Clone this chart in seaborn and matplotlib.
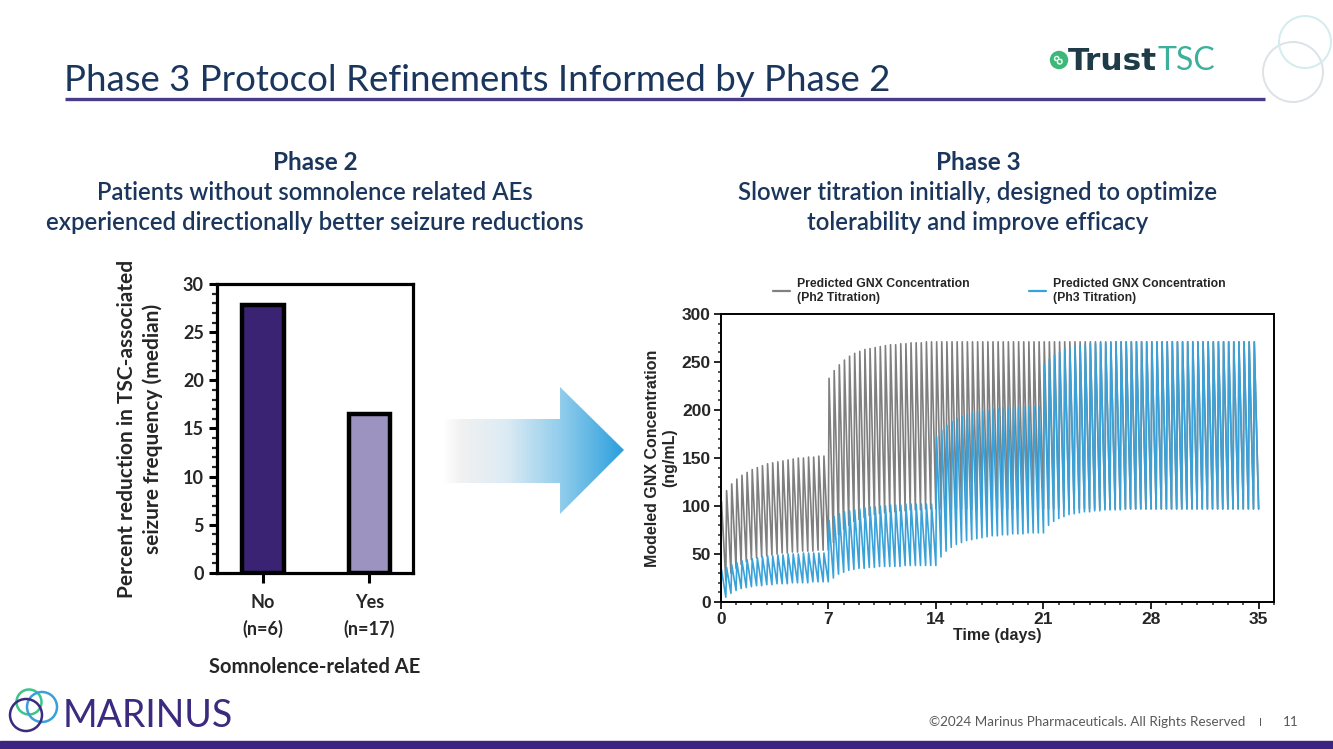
import numpy as np
import pandas as pd
import matplotlib
matplotlib.use("Agg")
import matplotlib.pyplot as plt
import seaborn as sns
from matplotlib.patches import Polygon, Circle, Rectangle
from matplotlib.lines import Line2D
from matplotlib.colors import LinearSegmentedColormap
from matplotlib.ticker import MultipleLocator

W, H = 1333, 749

# --- Phase 2 bar chart ---
ae_groups = ["No\n(n=6)", "Yes\n(n=17)"]
pct_reduction = [27.8, 16.5]
bar_colors = ["#3b2373", "#9d93c0"]

# --- modeled GNX concentration (ng/mL), one peak/trough per dose, 3 doses a day ---
ph2_peaks = ([105, 116, 123, 128, 132, 135, 138, 140, 142, 144, 145, 146, 147, 148, 149, 150, 150, 151, 151, 152, 152]
             + [233, 241, 247, 252, 256, 259, 261, 263, 264, 265, 266, 267, 268, 268, 269, 269, 270, 270, 270, 271, 271]
             + [271] * 63)
ph2_troughs = ([22, 30, 35, 39, 42, 44, 46, 47, 48, 49, 50, 51, 51, 52, 52, 53, 53, 53, 54, 54, 54]
               + [62, 70, 76, 80, 84, 86, 88, 90, 91, 92, 93, 94, 94, 95, 95, 96, 96, 96, 97, 97, 97]
               + [97] * 63)
ph3_peaks = ([34, 36, 39, 41, 43, 44, 45, 46, 47, 48, 48, 49, 49, 50, 50, 50, 51, 51, 51, 51, 51]
             + [85, 89, 92, 94, 95, 96, 97, 98, 99, 99, 100, 100, 101, 101, 101, 102, 102, 102, 102, 102, 102]
             + [172, 179, 184, 188, 191, 193, 195, 197, 198, 199, 200, 201, 201, 202, 202, 203, 203, 203, 204, 204, 204]
             + [247, 253, 257, 260, 263, 265, 266, 267, 268, 269, 269, 270, 270, 270, 271, 271, 271, 271, 271, 271, 271]
             + [271] * 21)
ph3_troughs = ([5, 9, 12, 14, 15, 16, 17, 17, 18, 18, 19, 19, 19, 20, 20, 20, 20, 21, 21, 21, 21]
               + [25, 29, 31, 33, 34, 35, 35, 36, 36, 37, 37, 37, 37, 37, 38, 38, 38, 38, 38, 38, 38]
               + [47, 53, 57, 60, 62, 64, 65, 66, 67, 68, 69, 69, 70, 70, 71, 71, 71, 72, 72, 72, 72]
               + [80, 84, 87, 89, 91, 92, 93, 94, 94, 95, 95, 96, 96, 96, 96, 97, 97, 97, 97, 97, 97]
               + [97] * 21)
dose_interval = 1 / 3  # days
x_ticks = [0, 7, 14, 21, 28, 35]

navy = "#1b365d"
purple = "#3b2a7f"
arial = ["Liberation Sans", "DejaVu Sans"]


def dose_curve(peaks, troughs, label):
    # rise at each dose, decay to trough just before the next dose
    t, c = [0.0], [0.0]
    for i, (p, tr) in enumerate(zip(peaks, troughs)):
        t0 = i * dose_interval
        t += [t0 + 0.05, t0 + dose_interval]
        c += [p, tr]
    return pd.DataFrame({"day": t, "conc": c, "series": label})


def px_axes(l, t, r, b):
    return fig.add_axes([l / W, 1 - b / H, (r - l) / W, (b - t) / H])


sns.set_theme(style="white")
plt.rcParams["font.family"] = ["Lato", "DejaVu Sans"]

fig = plt.figure(figsize=(W / 100, H / 100), dpi=100)

# background layer in pixel coordinates
ov = fig.add_axes([0, 0, 1, 1])
ov.axis("off")

ov.text(64, 91, "Phase 3 Protocol Refinements Informed by Phase 2", fontsize=26.4,
        color=navy, va="baseline", ha="left")
ov.plot([65, 1265], [99, 99], color="#4a3a8a", lw=2.4, solid_capstyle="butt")

# TrustTSC logo
ov.add_patch(Circle((1059, 60), 8.5, color="#3cb878"))
ov.text(1059, 60.5, "8", rotation=45, color="white", fontsize=9, fontweight="bold",
        ha="center", va="center")
trust = ov.text(1068, 70, "Trust", fontsize=22.5, fontweight="bold", color="#1f3b48",
                family=["DejaVu Sans"], va="baseline", ha="left")
ov.annotate("TSC", xy=(1, 0), xycoords=trust, fontsize=23, fontweight="normal",
            color="#3bb09a", va="bottom", ha="left")
ov.add_patch(Circle((1293, 72), 30, fill=False, ec="#dde2e7", lw=1.4))
ov.add_patch(Circle((1305, 42), 26, fill=False, ec="#d3ecef", lw=1.4))

# section headings
for cx, head, lines in [(315, "Phase 2", ["Patients without somnolence related AEs",
                                          "experienced directionally better seizure reductions"]),
                        (978, "Phase 3", ["Slower titration initially, designed to optimize",
                                          "tolerability and improve efficacy"])]:
    ov.text(cx, 162, head, fontsize=17.5, fontweight="bold", color=navy, ha="center", va="center")
    for k, line in enumerate(lines):
        ov.text(cx, 192 + 30 * k, line, fontsize=17.2, fontweight="semibold", color=navy,
                ha="center", va="center")

# gradient arrow
arrow_xy = [(443, 419), (560, 419), (560, 387), (624, 450), (560, 514), (560, 483), (443, 483)]
poly = Polygon(arrow_xy, closed=True, fc="none", ec="none")
ov.add_patch(poly)
arrow_cmap = LinearSegmentedColormap.from_list(
    "arrow", [(0, "#ffffff"), (0.1, "#f1f1f1"), (0.35, "#dcebf4"), (0.65, "#92cdec"), (1, "#2a9fdd")])
im = ov.imshow(np.linspace(0, 1, 256).reshape(1, -1), extent=(443, 624, 514, 387),
               cmap=arrow_cmap, aspect="auto", zorder=2)
im.set_clip_path(poly)

# MARINUS logo
ov.add_patch(Circle((29, 702), 12.5, fill=False, ec="#3cc48a", lw=1.8))
ov.add_patch(Circle((42, 707), 15, fill=False, ec="#3aa0d8", lw=1.8))
ov.add_patch(Circle((26, 715), 16, fill=False, ec=purple, lw=1.8))
ov.text(63, 727, "MARINUS", fontsize=27, fontweight="normal", color=purple,
        va="baseline", ha="left")

ov.text(1245, 722, "\u00a92024 Marinus Pharmaceuticals. All Rights Reserved", fontsize=9.7,
        color="#595959", ha="right", va="center")
ov.text(1260, 722, "I", fontsize=8, color="#595959", ha="center", va="center")
ov.text(1291, 722, "11", fontsize=9.7, color="#595959", ha="center", va="center")
ov.add_patch(Rectangle((0, 741), W, 8, color="#3b2580"))

ov.set_xlim(0, W)
ov.set_ylim(H, 0)

# --- Phase 2 bar chart ---
ax1 = px_axes(217, 284, 413, 573)
bar_df = pd.DataFrame({"group": ae_groups, "pct": pct_reduction})
sns.barplot(data=bar_df, x="group", y="pct", hue="group", palette=bar_colors, legend=False,
            width=0.39, saturation=1, edgecolor="black", linewidth=3.2, ax=ax1)
ax1.set_xlim(-0.43, 1.41)
ax1.set_ylim(0, 30)
ax1.yaxis.set_major_locator(MultipleLocator(5))
ax1.yaxis.set_minor_locator(MultipleLocator(1))
for s in ax1.spines.values():
    s.set_linewidth(2.3)
    s.set_color("black")
ax1.tick_params(axis="both", which="major", direction="out", length=6, width=2.2,
                labelsize=13, color="black", left=True, bottom=True)
ax1.tick_params(axis="x", which="major", length=7, pad=8)
ax1.tick_params(axis="y", which="minor", direction="out", length=3.5, width=1.6, left=True)
for lab in ax1.get_xticklabels() + ax1.get_yticklabels():
    lab.set_fontweight("bold")
for lab in ax1.get_xticklabels():
    lab.set_linespacing(1.6)
ax1.set_xlabel("Somnolence-related AE", fontsize=14.5, fontweight="bold", labelpad=14)
ax1.set_ylabel("Percent reduction in TSC-associated\nseizure frequency (median)",
               fontsize=15, fontweight="bold", labelpad=14, linespacing=1.35)

# --- Phase 3 concentration chart ---
ax2 = px_axes(720.7, 314, 1274, 602)
pk = pd.concat([dose_curve(ph2_peaks, ph2_troughs, "Ph2"),
                dose_curve(ph3_peaks, ph3_troughs, "Ph3")])
sns.lineplot(data=pk[pk.series == "Ph2"], x="day", y="conc", sort=False, estimator=None,
             color="#7f7f7f", lw=1.2, ax=ax2)
sns.lineplot(data=pk[pk.series == "Ph3"], x="day", y="conc", sort=False, estimator=None,
             color="#3aa2d9", lw=1.2, ax=ax2)
ax2.set_xlim(0, 36)
ax2.set_ylim(0, 300)
ax2.set_xticks(x_ticks)
ax2.xaxis.set_minor_locator(MultipleLocator(1))
ax2.yaxis.set_major_locator(MultipleLocator(50))
ax2.yaxis.set_minor_locator(MultipleLocator(10))
for s in ax2.spines.values():
    s.set_linewidth(1.4)
    s.set_color("black")
ax2.tick_params(axis="both", which="major", direction="out", length=5, width=1.4,
                labelsize=12.5, left=True, bottom=True, pad=2)
ax2.tick_params(axis="both", which="minor", direction="out", length=2.5, width=1.1,
                left=True, bottom=True)
for lab in ax2.get_xticklabels() + ax2.get_yticklabels():
    lab.set_fontfamily(arial)
    lab.set_fontweight("bold")
ax2.set_xlabel("Time (days)", fontsize=11.5, fontweight="bold", family=arial, labelpad=1)
ax2.set_ylabel("Modeled GNX Concentration\n(ng/mL)", fontsize=11.5, fontweight="bold",
               family=arial, labelpad=3, linespacing=1.2)
handles = [Line2D([], [], color="#808080", lw=1.6), Line2D([], [], color="#3aa2d9", lw=1.6)]
ax2.legend(handles, ["Predicted GNX Concentration\n(Ph2 Titration)",
                     "Predicted GNX Concentration\n(Ph3 Titration)"],
           ncol=2, frameon=False, loc="lower left", bbox_to_anchor=(0.094, 1.035),
           prop={"family": arial, "weight": "bold", "size": 8.8},
           handlelength=1.4, handletextpad=0.55, columnspacing=4.9, borderaxespad=0,
           borderpad=0)

fig.savefig("out.png", dpi=100)
